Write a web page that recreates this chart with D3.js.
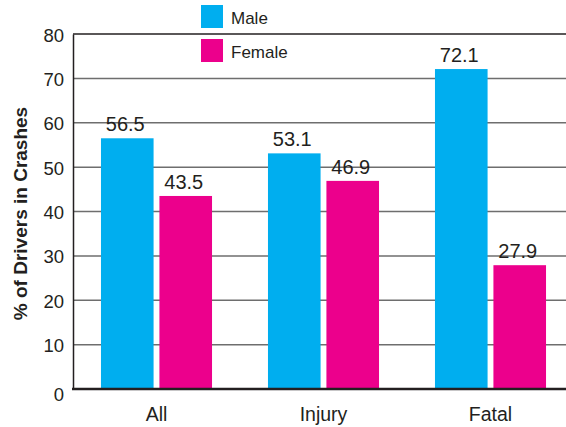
<!DOCTYPE html>
<html>
<head>
<meta charset="utf-8">
<script src="https://cdn.jsdelivr.net/npm/d3@7/dist/d3.min.js"></script>
<style>
  html, body { margin: 0; padding: 0; background: #fff; }
  svg { display: block; font-family: "Liberation Sans", Arial, Helvetica, sans-serif; }
</style>
</head>
<body>
<svg id="chart" width="566" height="427"></svg>
<script>
// Share of drivers in crashes, by sex and crash severity
const categories = ["All", "Injury", "Fatal"];
const seriesNames = ["Male", "Female"];
const maleValues = [56.5, 53.1, 72.1];
const femaleValues = [43.5, 46.9, 27.9];
const yTicks = [0, 10, 20, 30, 40, 50, 60, 70, 80];
const seriesColors = ["#00aeef", "#ec008c"];
const yTitle = "% of Drivers in Crashes";

const rows = categories.map((c, i) => ({ category: c, values: [maleValues[i], femaleValues[i]] }));

const svg = d3.select("#chart");
const ink = "#231f20";

const plotLeft = 73, plotRight = 574, plotTop = 34, plotBottom = 389;

const x = d3.scaleBand().domain(categories).range([plotLeft, plotRight])
  .paddingInner(0.335).paddingOuter(0.1675);
const xs = d3.scaleBand().domain(seriesNames).range([0, x.bandwidth()]).paddingInner(0.1);
const y = d3.scaleLinear().domain([0, 80]).range([plotBottom, plotTop]);
const color = d3.scaleOrdinal().domain(seriesNames).range(seriesColors);

// horizontal grid lines
svg.append("g").selectAll("line").data(yTicks.filter(t => t > 0 && t < 80)).join("line")
  .attr("x1", plotLeft).attr("x2", 566)
  .attr("y1", d => y(d)).attr("y2", d => y(d))
  .attr("stroke", "#6e6e6e").attr("stroke-width", 1.5);

// top frame line
svg.append("line").attr("x1", plotLeft).attr("x2", 566)
  .attr("y1", y(80)).attr("y2", y(80))
  .attr("stroke", ink).attr("stroke-width", 1.5);

// bars
const groups = svg.append("g").selectAll("g").data(rows).join("g")
  .attr("transform", d => `translate(${x(d.category)},0)`);

groups.selectAll("rect").data(d => d.values.map((v, i) => ({ key: seriesNames[i], value: v })))
  .join("rect")
  .attr("x", d => xs(d.key))
  .attr("width", xs.bandwidth())
  .attr("y", d => y(d.value))
  .attr("height", d => y(0) - y(d.value))
  .attr("fill", d => color(d.key));

groups.selectAll("text.val").data(d => d.values.map((v, i) => ({ key: seriesNames[i], value: v })))
  .join("text").attr("class", "val")
  .attr("x", d => xs(d.key) + xs.bandwidth() / 2 - 2)
  .attr("y", d => y(d.value) - 7)
  .attr("text-anchor", "middle")
  .attr("font-size", 20)
  .attr("fill", ink)
  .text(d => d.value.toFixed(1));

// y axis
const yAxis = svg.append("g").attr("transform", `translate(${plotLeft},0)`)
  .call(d3.axisLeft(y).tickValues(yTicks).tickSize(0).tickPadding(9).tickFormat(d3.format("d")));
yAxis.select(".domain").attr("stroke", ink).attr("stroke-width", 1.5);
yAxis.selectAll("text").attr("font-size", 18.5).attr("fill", ink)
  .attr("font-family", "Liberation Sans, Arial, sans-serif")
  .attr("dy", d => d === 0 ? "0.62em" : "0.38em");

// x axis
const xAxis = svg.append("g").attr("transform", `translate(0,${plotBottom})`)
  .call(d3.axisBottom(x).tickSize(0).tickPadding(18));
xAxis.select(".domain").remove();
svg.append("line").attr("x1", plotLeft - 1).attr("x2", 566)
  .attr("y1", plotBottom).attr("y2", plotBottom)
  .attr("stroke", ink).attr("stroke-width", 2.5);
xAxis.selectAll("text").attr("font-size", 19.5).attr("fill", ink)
  .attr("font-family", "Liberation Sans, Arial, sans-serif");

// y axis title
svg.append("text")
  .attr("transform", `translate(26.5,${(plotTop + plotBottom) / 2 + 2}) rotate(-90)`)
  .attr("text-anchor", "middle")
  .attr("font-size", 19)
  .attr("font-weight", "bold")
  .attr("fill", ink)
  .text(yTitle);

// legend
const legend = svg.append("g").attr("transform", "translate(201,5)");
const items = legend.selectAll("g").data(seriesNames).join("g")
  .attr("transform", (d, i) => `translate(0,${i * 34})`);
items.append("rect").attr("width", 22).attr("height", 23).attr("fill", d => color(d));
items.append("text").attr("x", 30).attr("y", 18.5)
  .attr("font-size", 17).attr("fill", ink).text(d => d);
</script>
</body>
</html>
